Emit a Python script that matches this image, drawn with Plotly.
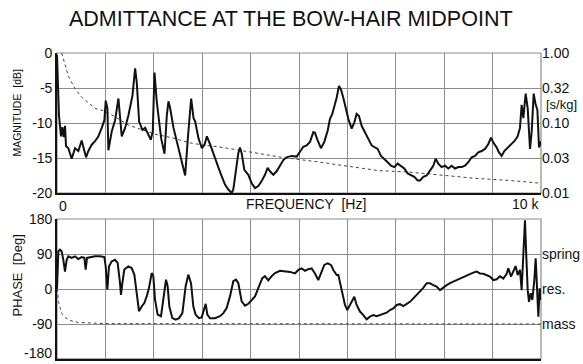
import plotly.graph_objects as go

# Bow-hair midpoint admittance: magnitude (dB) and phase (deg) versus frequency (Hz)
mag_freq = [0, 14, 41, 83, 110, 138, 166, 186, 234, 303, 372, 441, 510, 566, 600, 648,
            717, 786, 855, 924, 979, 1007, 1041, 1062, 1131, 1200, 1269, 1338, 1407, 1476,
            1559, 1614, 1648, 1697, 1766, 1821, 1890, 1938, 1979, 2014, 2062, 2152, 2221,
            2269, 2303, 2338, 2407, 2510, 2593, 2648, 2703, 2772, 2821, 2855, 2924, 2993,
            3048, 3097, 3166, 3234, 3338, 3402, 3471, 3540, 3608, 3643, 3691, 3746, 3780,
            3815, 3870, 3953, 4022, 4090, 4159, 4228, 4297, 4352, 4400, 4469, 4538, 4607,
            4676, 4745, 4848, 4952, 5020, 5089, 5158, 5227, 5296, 5330, 5385, 5454, 5523,
            5592, 5640, 5688, 5743, 5778, 5826, 5867, 5915, 5964, 6019, 6088, 6143, 6191,
            6239, 6294, 6363, 6432, 6501, 6570, 6625, 6694, 6763, 6832, 6900, 6969, 7038,
            7107, 7176, 7245, 7314, 7383, 7452, 7500, 7569, 7638, 7707, 7775, 7823, 7878,
            7947, 8016, 8085, 8154, 8223, 8292, 8361, 8429, 8498, 8567, 8636, 8705, 8774,
            8843, 8912, 8967, 9015, 9084, 9132, 9187, 9242, 9311, 9380, 9449, 9518, 9566,
            9600, 9635, 9683, 9725, 9773, 9808, 9849, 9890, 9925, 9959, 10000]
mag_db = [-0.3, -4.7, -8.9, -11.9, -10.6, -12.0, -10.4, -13.3, -13.6, -15.1, -13.6, -14.0,
          -12.5, -14.0, -14.9, -14.0, -13.1, -12.6, -11.9, -10.7, -9.6, -6.8, -7.9, -13.9,
          -11.2, -9.6, -6.5, -11.9, -10.7, -8.9, -6.1, -2.2, -4.2, -9.8, -11.0, -10.7,
          -11.7, -12.4, -11.2, -2.8, -7.0, -12.2, -14.4, -8.9, -6.9, -7.9, -10.7, -13.6,
          -15.7, -17.5, -12.2, -6.5, -9.3, -9.8, -12.2, -13.6, -13.1, -11.9, -13.1, -14.5,
          -16.4, -17.6, -18.8, -19.5, -20.0, -19.5, -17.1, -14.3, -13.5, -14.3, -16.7,
          -17.4, -18.6, -19.3, -19.0, -18.3, -17.4, -16.4, -16.9, -17.4, -16.9, -16.0,
          -15.3, -14.9, -14.7, -14.8, -14.1, -13.4, -13.2, -12.7, -11.3, -11.4, -12.5,
          -13.6, -12.7, -11.1, -9.4, -8.7, -7.3, -6.4, -4.7, -5.2, -6.4, -7.8, -9.4,
          -10.8, -9.9, -8.7, -9.0, -10.4, -11.3, -12.2, -13.2, -13.5, -13.7, -14.7, -15.1,
          -15.6, -16.1, -16.3, -15.8, -16.1, -16.5, -17.2, -17.5, -17.7, -18.2, -18.2,
          -17.7, -17.5, -16.8, -16.1, -15.1, -15.8, -16.3, -16.1, -16.5, -16.1, -16.5,
          -16.3, -16.3, -16.1, -15.6, -14.9, -14.7, -14.2, -14.0, -13.7, -13.0, -12.1,
          -12.8, -13.5, -14.2, -14.7, -14.0, -13.5, -13.0, -12.6, -11.9, -10.7, -7.4,
          -9.3, -5.8, -7.9, -13.7, -11.2, -5.8, -7.4, -8.1, -13.5, -12.6]

# Mass-like reference curve on the magnitude panel
mass_mag_freq = [97, 166, 234, 372, 510, 648, 786, 979, 1200, 1476, 1752, 2028, 2372,
                 2717, 3062, 3338, 3953, 4641, 5330, 6019, 6639, 7259, 7947, 8636, 9325, 10000]
mass_mag_db = [0, -1.6, -3.3, -5.1, -6.3, -7.1, -7.9, -8.3, -9.1, -10.3, -11.0, -11.6,
               -12.1, -12.8, -13.2, -13.4, -14.1, -14.9, -15.5, -16.2, -16.8, -17.0,
               -17.5, -17.9, -18.2, -18.6]

phase_freq = [0, 14, 28, 62, 96, 131, 165, 200, 234, 303, 372, 441, 510, 565, 592, 620,
              682, 785, 888, 978, 1006, 1040, 1074, 1129, 1198, 1253, 1302, 1322, 1350,
              1391, 1474, 1543, 1598, 1646, 1694, 1749, 1804, 1853, 1901, 1956, 1990, 2025,
              2080, 2149, 2197, 2252, 2286, 2321, 2383, 2452, 2521, 2590, 2658, 2713, 2769,
              2817, 2865, 2934, 2989, 3037, 3072, 3106, 3161, 3264, 3368, 3437, 3505, 3574,
              3643, 3698, 3747, 3815, 3884, 3953, 4022, 4091, 4173, 4242, 4297, 4366, 4435,
              4504, 4607, 4711, 4814, 4917, 4986, 5055, 5123, 5192, 5261, 5330, 5399, 5454,
              5523, 5592, 5661, 5709, 5778, 5813, 5867, 5915, 5950, 5998, 6053, 6101, 6143,
              6191, 6260, 6329, 6398, 6467, 6535, 6604, 6673, 6742, 6811, 6880, 6949, 7017,
              7086, 7155, 7224, 7293, 7362, 7431, 7500, 7568, 7637, 7706, 7775, 7844, 7913,
              7982, 8051, 8119, 8188, 8257, 8326, 8395, 8464, 8533, 8601, 8670, 8739, 8808,
              8877, 8946, 9015, 9084, 9153, 9222, 9290, 9325, 9380, 9428, 9476, 9518, 9566,
              9600, 9635, 9669, 9697, 9725, 9752, 9787, 9821, 9862, 9890, 9918, 9945, 9973,
              10000]
phase_deg = [0, 92, 97, 101, 97, 75, 45, 75, 84, 80, 84, 77, 82, 80, 50, 80, 82, 84, 84,
             82, 58, -2, 58, 71, 75, 67, 15, -15, 15, 50, 58, 54, 37, -19, -57, -45, -36,
             -19, 3, 41, 33, -27, -66, -70, -27, 24, 7, -45, -75, -79, -75, -62, 7, 37, 15,
             -45, -66, -75, -73, -53, -38, -66, -75, -75, -70, -62, -49, -19, 20, 24, 15,
             -32, -43, -38, -27, -19, 7, 28, 33, 22, 33, 41, 47, 45, 44, 40, 49, 53, 47, 51,
             53, 40, 23, 40, 62, 66, 62, 49, 36, 36, 2, -20, -41, -54, -41, -28, -20, -41,
             -58, -67, -78, -71, -67, -70, -67, -64, -61, -54, -50, -41, -39, -44, -39, -33,
             -24, -15, -7, 3, 15, 15, 10, 6, -3, 4, 10, 15, 19, 23, 27, 32, 36, 39, 42, 45,
             40, 39, 36, 32, 23, 25, 33, 27, 39, 53, 32, 45, 59, 36, 49, -3, 75, 177, 83, -3,
             -33, -11, -28, 23, 79, -20, -71, 2, -28]

# Mass-like reference curve on the phase panel
mass_phase_freq = [0, 14, 28, 62, 96, 165, 269, 441, 647, 992, 10000]
mass_phase_deg = [0, -6, -32, -51, -62, -73, -81, -86, -87, -89, -90]

mag_ticks = [0, -5, -10, -15, -20]
mag_ticktext = ["0", "-5", "-10", "-15", "-20"]
adm_ticktext = ["1.00", "0.32", "0.10", "0.03", "0.01"]
phase_grid = [180, 90, 0, -90, -180]
phase_ticks = [180, 90, 0, -90]
phase_ticktext = ["180", "90", "0", "-90"]
phase_bottom_label = "-180"
phase_side_ticks = [90, 0, -90]
phase_side_text = ["spring", "res.", "mass"]
freq_grid = list(range(0, 10001, 1000))

assert len(mag_freq) == len(mag_db)
assert len(phase_freq) == len(phase_deg)

FONT = "Liberation Sans, Arial, sans-serif"
GRID = "#8c8c8c"
INK = "#111111"

fig = go.Figure()
fig.add_trace(go.Scatter(x=mass_mag_freq, y=mass_mag_db, mode="lines",
                         line=dict(color="#444444", width=1, dash="3px,3px"),
                         xaxis="x", yaxis="y", hoverinfo="skip"))
fig.add_trace(go.Scatter(x=mag_freq, y=mag_db, mode="lines",
                         line=dict(color=INK, width=2), xaxis="x", yaxis="y"))
fig.add_trace(go.Scatter(x=mass_phase_freq, y=mass_phase_deg, mode="lines",
                         line=dict(color="#444444", width=1, dash="3px,3px"),
                         xaxis="x2", yaxis="y2", hoverinfo="skip"))
fig.add_trace(go.Scatter(x=phase_freq, y=phase_deg, mode="lines",
                         line=dict(color=INK, width=2), xaxis="x2", yaxis="y2"))
# invisible carriers for the right-hand scales
fig.add_trace(go.Scatter(x=[0], y=[-20], mode="markers", marker=dict(opacity=0),
                         xaxis="x", yaxis="y3", hoverinfo="skip"))
fig.add_trace(go.Scatter(x=[0], y=[0], mode="markers", marker=dict(opacity=0),
                         xaxis="x2", yaxis="y4", hoverinfo="skip"))

top_dom = [0.5425, 1.0]
bot_dom = [0.0, 0.4575]

xcommon = dict(range=[0, 10000], tickvals=freq_grid, showticklabels=False, ticks="",
               showgrid=True, gridcolor=GRID, gridwidth=1.2, zeroline=False,
               showline=True, linecolor=INK, linewidth=1.6, automargin=False)
ycommon = dict(showgrid=True, gridcolor=GRID, gridwidth=1.2, zeroline=False,
               showline=True, linecolor=INK, linewidth=1.6, ticks="", automargin=False,
               ticklabeloverflow="allow",
               tickfont=dict(family=FONT, size=14, color=INK))
side = dict(showgrid=False, zeroline=False, showline=False, ticks="", automargin=False,
            ticklabeloverflow="allow",
            tickfont=dict(family=FONT, size=14, color=INK))

fig.update_layout(
    width=583, height=364,
    margin=dict(l=57, r=42, t=53, b=5, autoexpand=False),
    paper_bgcolor="white", plot_bgcolor="white",
    showlegend=False,
    xaxis=dict(domain=[0, 1], anchor="y", **xcommon),
    xaxis2=dict(domain=[0, 1], anchor="y2", matches="x", **xcommon),
    yaxis=dict(domain=top_dom, anchor="x", range=[-20, 0], tickvals=mag_ticks,
               ticktext=mag_ticktext, **ycommon),
    yaxis2=dict(domain=bot_dom, anchor="x2", range=[-180, 180], tickvals=phase_ticks,
                ticktext=phase_ticktext, **ycommon),
    yaxis3=dict(overlaying="y", side="right", anchor="x", range=[-20, 0],
                tickvals=mag_ticks, ticktext=adm_ticktext, **side),
    yaxis4=dict(overlaying="y2", side="right", anchor="x2", range=[-180, 180],
                tickvals=phase_side_ticks, ticktext=phase_side_text, **side),
)

# grey frame on the open sides of each panel
for xr, yr in (("x", "y"), ("x2", "y2")):
    fig.add_shape(type="rect", xref=f"{xr} domain", yref=f"{yr} domain",
                  x0=0, x1=1, y0=0, y1=1, line=dict(color=GRID, width=1.2),
                  layer="below")
# horizontal grid line for the lowest phase value (its label sits above the page edge)
fig.add_shape(type="line", xref="x2 domain", yref="y2", x0=0, x1=1,
              y0=phase_grid[-1], y1=phase_grid[-1], line=dict(color=GRID, width=1.2),
              layer="below")

ann = dict(showarrow=False, font=dict(family=FONT, size=14, color=INK))
fig.add_annotation(text="ADMITTANCE AT THE BOW-HAIR MIDPOINT", xref="paper", yref="paper",
                   x=0.483, y=1.0, yshift=34, xanchor="center", yanchor="middle",
                   **{**ann, "font": dict(family=FONT, size=21.5, color=INK)})
fig.add_annotation(text="0", xref="x", yref="paper", x=0, y=top_dom[0], yshift=-13,
                   xanchor="left", yanchor="middle", **ann)
fig.add_annotation(text="10 k", xref="x", yref="paper", x=10000, y=top_dom[0], yshift=-11,
                   xanchor="right", yanchor="middle", **ann)
fig.add_annotation(text="FREQUENCY  [Hz]", xref="paper", yref="paper", x=0.514,
                   y=top_dom[0], yshift=-11, xanchor="center", yanchor="middle", **ann)
fig.add_annotation(text="[s/kg]", xref="paper", yref="y", x=1.0, y=-7.4, xshift=3,
                   xanchor="left", yanchor="middle",
                   **{**ann, "font": dict(family=FONT, size=13, color=INK)})
fig.add_annotation(text=phase_bottom_label, xref="paper", yref="y2", x=0,
                   y=phase_grid[-1], xshift=-3, yshift=-4, xanchor="right",
                   yanchor="bottom", **ann)
fig.add_annotation(text="MAGNITUDE  [dB]", xref="paper", yref="paper", x=-0.082,
                   y=(top_dom[0] + top_dom[1]) / 2 + 0.035, textangle=-90,
                   xanchor="center", yanchor="middle",
                   **{**ann, "font": dict(family=FONT, size=10.5, color=INK)})
fig.add_annotation(text="PHASE  [Deg]", xref="paper", yref="paper", x=-0.082,
                   y=(bot_dom[0] + bot_dom[1]) / 2 + 0.045, textangle=-90,
                   xanchor="center", yanchor="middle",
                   **{**ann, "font": dict(family=FONT, size=13, color=INK)})

fig.write_html("out.html")
